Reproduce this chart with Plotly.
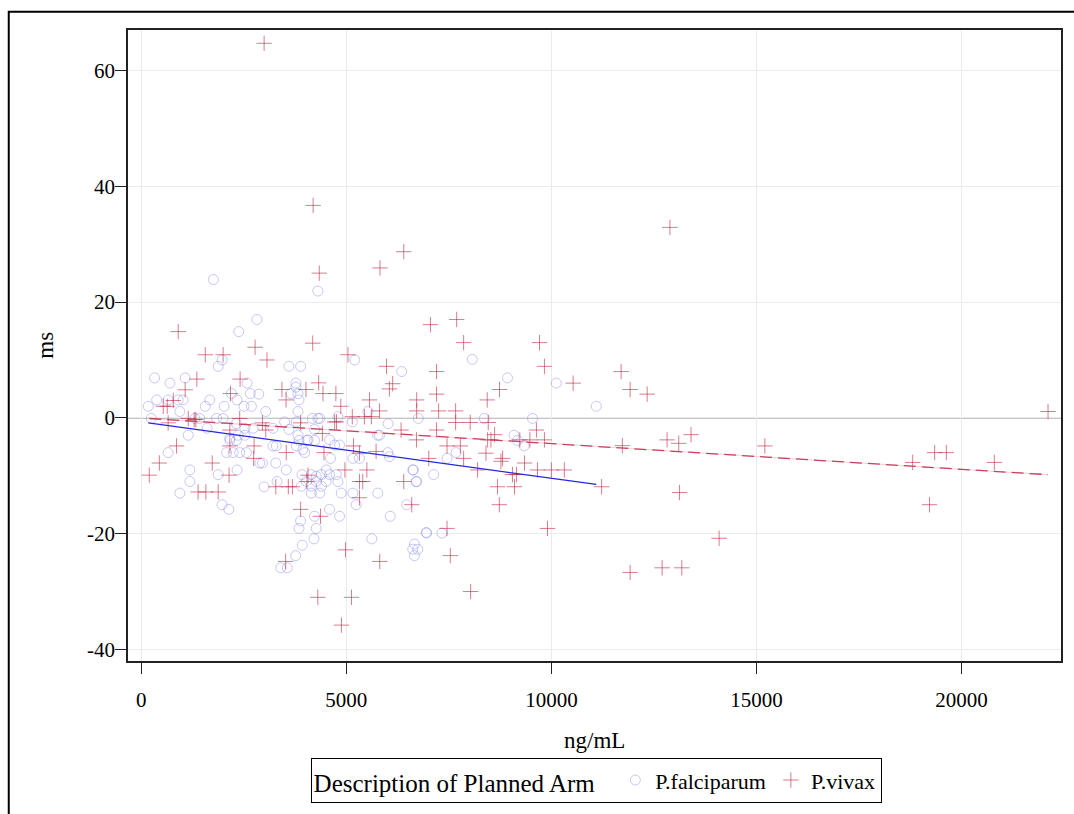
import plotly.graph_objects as go

# P.falciparum arm: concentration (ng/mL) vs change (ms)
falc_x = [1760, 4305, 2820, 2375, 1875, 1970, 3600, 3885, 5205, 6350,
          325, 700, 1070, 2580, 3770, 170, 375, 655, 900, 1020,
          940, 1670, 1560, 2020, 2200, 2335, 2505, 2660, 2685, 2865,
          3035, 3770, 3820, 3845, 3650, 3820, 4170, 4305, 4350, 4795,
          5525, 6020, 6755, 245, 1305, 1425, 1835, 1995, 2320, 2525,
          1605, 1145, 2160, 2360, 2725, 3210, 3495, 3780, 3600, 3820,
          4065, 4225, 4590, 4715, 4835, 5145, 5765, 655, 1185, 1185,
          940, 1875, 1970, 2135, 2160, 2320, 2525, 2080, 2240, 2400,
          2565, 2335, 2890, 2955, 3280, 2995, 3210, 3290, 3535, 3310,
          3780, 3985, 4040, 4225, 4615, 5160, 3920, 4145, 4265, 4390,
          4510, 4590, 4755, 4795, 4510, 4390, 4265, 4145, 4025, 3905,
          4145, 4350, 4875, 5160, 5240, 4590, 4835, 4225, 3885, 3845,
          4265, 4210, 3925, 3765, 3400, 3560, 5620, 6070, 5765, 6470,
          6660, 6620, 6740, 6660, 6945, 6700, 6620, 6010, 5320, 3845,
          3940, 5810, 6050, 8365, 9540, 9090, 9175, 9335, 7675, 7455,
          6635, 6715, 7130, 6960, 7330, 8070, 8930, 10120, 11095]
falc_y = [23.9, 21.9, 17.0, 14.9, 8.9, 10.0, 8.9, 8.9, 10.0, 8.0,
          6.9, 6.0, 6.9, 6.0, 6.0, 2.0, 3.1, 3.1, 3.1, 3.1,
          1.1, 3.1, 2.0, 2.0, 4.2, 3.1, 2.0, 4.2, 2.0, 4.1,
          1.1, 5.3, 4.2, 3.1, 4.2, 1.1, -0.1, -0.1, -0.1, 0.2,
          1.1, -1.0, -0.1, -0.1, -0.1, -0.1, -0.1, -0.1, -1.0, -1.8,
          -1.8, -3.0, -3.5, -3.0, -1.8, -1.8, -0.7, -0.7, -2.0, -3.0,
          -3.8, -2.0, -3.8, -4.7, -4.7, -0.7, -3.0, -6.0, -9.0, -11.0,
          -13.0, -9.8, -15.0, -15.8, -3.9, -3.9, -3.0, -6.0, -6.0, -6.0,
          -6.0, -9.0, -7.8, -7.8, -7.8, -11.9, -4.85, -4.85, -9.0, -11.0,
          -4.85, -6.0, -3.9, -3.9, -7.0, -7.0, -9.8, -9.8, -10.1, -9.8,
          -9.0, -9.8, -9.8, -11.0, -11.0, -11.8, -11.0, -11.8, -11.0, -11.8,
          -13.0, -13.0, -13.0, -13.0, -15.0, -15.8, -17.0, -17.0, -17.8, -19.1,
          -19.1, -20.9, -22.0, -23.8, -25.9, -25.9, -20.9, -17.0, -13.0, -15.0,
          -21.8, -22.7, -22.7, -23.8, -19.8, -11.0, -9.0, -6.0, -7.0, -3.9,
          -5.5, -3.0, -6.7, -0.1, -0.1, -3.0, -3.9, -4.85, -6.0, -7.0,
          -9.0, -11.0, -9.8, -19.9, -19.9, 10.1, 6.9, 6.0, 2.0]

# P.vivax arm
viv_x = [2995, 4190, 12890, 6400, 4340, 5820, 900, 1560, 1995, 2775,
         3065, 4180, 5040, 1355, 2410, 1070, 780, 535, 632, 2175,
         4325, 3430, 3530, 4015, 4430, 4745, 4865, 5980, 6130, 6050,
         5565, 5810, 6715, 6715, 7050, 7690, 7860, 9710, 9830, 7200,
         7200, 7250, 7665, 7665, 8020, 8735, 8435, 8460, 7200, 6335,
         6710, 8615, 9635, 10530, 11700, 11920, 12335, 13405, 12820, 13105,
         11730, 8445, 8525, 9230, 9475, 9830, 7455, 7780, 8405, 7010,
         7860, 8770, 8810, 9345, 8200, 9050, 9150, 9660, 10000, 10315,
         6400, 8685, 9100, 11225, 13125, 6595, 8730, 7455, 9905, 7535,
         8030, 11920, 12700, 13180, 15205, 14090, 18810, 19345, 19630, 19220,
         20800, 22110, 655, 1290, 1330, 2160, 2160, 2750, 2955, 3035,
         3535, 3885, 4415, 4455, 5175, 5320, 5725, 860, 440, 1730,
         195, 2140, 2740, 4065, 4040, 3280, 3585, 3685, 1385, 1575,
         1875, 4965, 5500, 5320, 5400, 5320, 3885, 4370, 4980, 5815,
         3520, 4305, 5125, 1145, 2400, 4715, 4760, 5145, 5440, 5610,
         4880]
viv_y = [64.7, 36.7, 32.9, 28.7, 25.0, 25.9, 14.9, 10.9, 10.9, 12.2,
         10.0, 12.9, 10.9, 6.7, 6.7, 4.85, 3.0, 2.0, 2.0, 4.2,
         6.05, 4.9, 3.1, 4.9, 4.2, 4.2, 2.0, 8.9, 5.9, 5.0,
         3.1, 1.2, 3.1, 1.2, 16.1, 17.0, 13.0, 13.0, 8.9, 8.0,
         4.1, 1.2, 1.2, -0.8, -0.8, 4.9, 3.1, -0.8, -2.1, -2.1,
         -3.8, -2.9, -2.1, 6.0, 8.0, 4.9, 4.1, -2.9, -3.8, -4.4,
         -4.8, -3.8, -3.8, -3.8, -3.8, -3.8, -4.85, -4.85, -6.1, -7.0,
         -7.0, -7.5, -7.0, -7.8, -9.0, -9.8, -9.8, -9.0, -9.0, -9.0,
         -11.0, -11.9, -11.9, -11.9, -12.9, -15.0, -15.0, -19.1, -19.1, -23.8,
         -30.0, -26.7, -25.9, -25.9, -4.85, -20.8, -7.7, -6.0, -6.0, -15.0,
         -7.7, 1.1, -0.86, -0.3, -0.3, -2.1, -4.85, -4.85, -0.86, -2.1,
         -6.0, -0.86, -2.7, -6.0, -4.85, -6.1, -5.8, -4.85, -7.8, -7.8,
         -9.9, -9.9, -7.0, -9.9, -11.0, -11.9, -11.9, -11.9, -12.8, -12.8,
         -12.8, -9.0, -9.0, -11.0, -11.0, -13.8, -15.8, -17.0, -22.8, -24.8,
         -24.8, -31.0, -31.0, -0.1, -0.1, -0.7, -0.7, 0.2, 0.2, 0.2,
         -35.8]

# Linear fits (intercept, slope) per arm
falc_fit = [-0.70, -0.000974]
viv_fit = [-0.02, -0.000443]

x_ticks = [0, 5000, 10000, 15000, 20000]
y_ticks = [-40, -20, 0, 20, 40, 60]

SERIF = "Liberation Serif, Times New Roman, serif"

W, H = 1074, 814
ML, MR, MT, MB = 128, 11, 30, 148
PW, PH = W - ML - MR, H - MT - MB


def px_x(px):
    return (px - ML) / PW


def px_y(py):
    return (H - MB - py) / PH


def fit_line(xs, coef):
    lo, hi = min(xs), max(xs)
    return [lo, hi], [coef[0] + coef[1] * lo, coef[0] + coef[1] * hi]


fig = go.Figure()

fig.add_trace(go.Scatter(
    x=falc_x, y=falc_y, mode="markers", name="P.falciparum",
    marker=dict(symbol="circle-open", size=10, color="rgba(110,110,235,0.38)",
                line=dict(width=1)),
))
fig.add_trace(go.Scatter(
    x=viv_x, y=viv_y, mode="markers", name="P.vivax",
    marker=dict(symbol="cross-thin-open", size=11, color="rgba(195,35,65,0.6)",
                line=dict(width=1)),
))

fx, fy = fit_line(falc_x, falc_fit)
fig.add_trace(go.Scatter(x=fx, y=fy, mode="lines", showlegend=False,
                         line=dict(color="#2626e0", width=1.3), hoverinfo="skip"))

vx, vy = fit_line(viv_x, viv_fit)
fig.add_trace(go.Scatter(x=vx, y=vy, mode="lines", showlegend=False,
                         line=dict(color="rgba(215,120,140,0.3)", width=1.3),
                         hoverinfo="skip"))
fig.add_trace(go.Scatter(x=vx, y=vy, mode="lines", showlegend=False,
                         line=dict(color="#c8405e", width=1.3, dash="12px,6px"),
                         hoverinfo="skip"))

axis_common = dict(
    showline=True, mirror=True, linecolor="#222", linewidth=1.5,
    ticks="outside", ticklen=11, tickwidth=1.3, tickcolor="#222",
    showgrid=True, gridcolor="#ebebeb", gridwidth=1, zeroline=False,
    tickfont=dict(family=SERIF, size=21, color="black"),
)

fig.update_xaxes(range=[-324, 22426], tickvals=x_ticks,
                 ticktext=[str(v) for v in x_ticks], ticklabelstandoff=8,
                 **axis_common)
fig.update_yaxes(range=[-42, 67], tickvals=y_ticks,
                 ticktext=[str(v) for v in y_ticks], ticklabelstandoff=-4,
                 **axis_common)

fig.update_layout(
    width=W, height=H,
    margin=dict(l=ML, r=MR, t=MT, b=MB),
    plot_bgcolor="white", paper_bgcolor="white",
    font=dict(family=SERIF, color="black"),
    showlegend=True,
    legend=dict(
        orientation="h", x=px_x(311), y=px_y(764), xanchor="left", yanchor="top",
        bordercolor="black", borderwidth=1, bgcolor="white",
        title=dict(text="Description of Planned Arm  ", side="left",
                   font=dict(family=SERIF, size=25, color="black")),
        font=dict(family=SERIF, size=22, color="black"),
        itemsizing="trace",
    ),
    shapes=[
        # zero reference line
        dict(type="line", xref="paper", yref="y", x0=0, x1=1, y0=0, y1=0,
             line=dict(color="#8c8c8c", width=1.5), layer="below"),
        # outer frame
        dict(type="rect", xref="paper", yref="paper",
             x0=px_x(8.5), x1=px_x(1090), y0=px_y(840), y1=px_y(11.5),
             line=dict(color="black", width=2), fillcolor="rgba(0,0,0,0)"),
    ],
    annotations=[
        dict(text="ms", xref="paper", yref="paper", x=px_x(45), y=0.5,
             textangle=-90, showarrow=False, xanchor="center", yanchor="middle",
             font=dict(family=SERIF, size=23, color="black")),
        dict(text="ng/mL", xref="paper", yref="paper", x=0.5, y=px_y(746),
             showarrow=False, xanchor="center", yanchor="middle",
             font=dict(family=SERIF, size=23, color="black")),
    ],
)

fig.write_html("out.html")
